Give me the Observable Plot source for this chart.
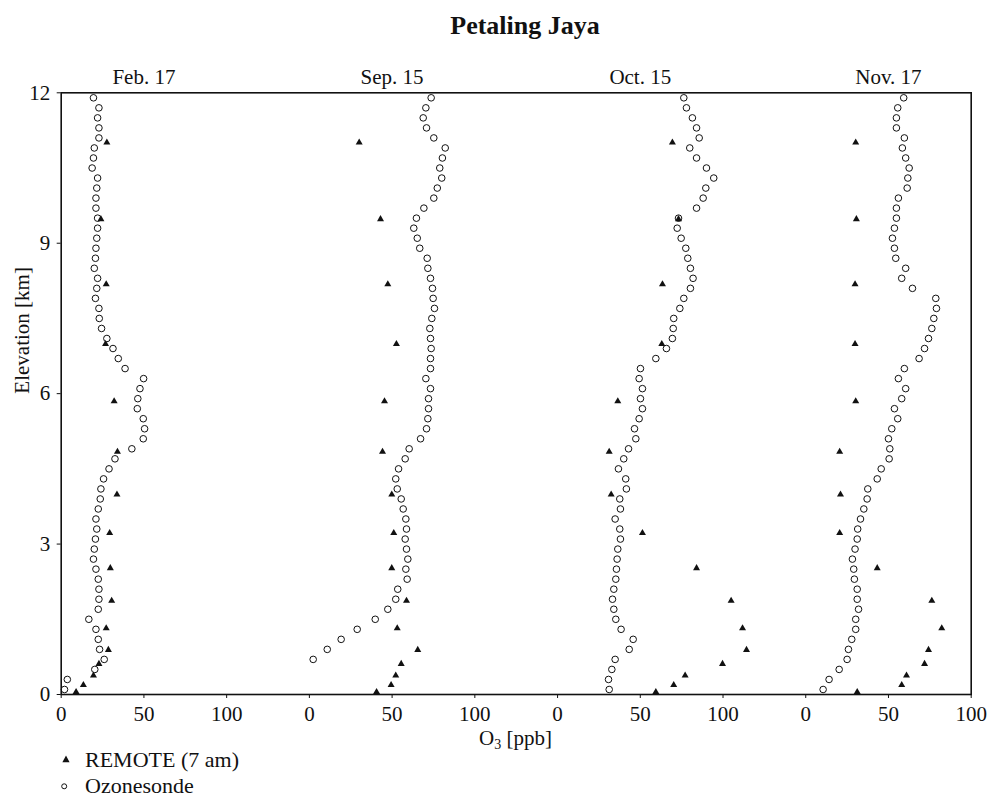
<!DOCTYPE html>
<html>
<head>
<meta charset="utf-8">
<script src="https://cdn.jsdelivr.net/npm/d3@7"></script>
<script src="https://cdn.jsdelivr.net/npm/@observablehq/plot@0.6"></script>
<style>
  html, body { margin: 0; padding: 0; background: #fff; overflow: hidden; }
  #wrap { position: relative; width: 990px; height: 797px; font-family: "Liberation Serif", "Times New Roman", serif; color: #111; }
  #title { position: absolute; left: 0; top: 11px; width: 1050px; text-align: center; font-size: 26px; font-weight: bold; line-height: 30px; }
  #chart { position: absolute; left: 0; top: 50px; }
  #xlabel { position: absolute; left: 0; top: 726px; width: 1031px; text-align: center; font-size: 21px; line-height: 24px; }
  #xlabel sub { font-size: 14px; vertical-align: -4px; line-height: 0; }
  .leg { position: absolute; left: 85px; font-size: 22px; line-height: 20px; white-space: nowrap; }
  .sw { position: absolute; }
</style>
</head>
<body>
<div id="wrap">
  <div id="title">Petaling Jaya</div>
  <div id="chart"></div>
  <div id="xlabel">O<sub>3</sub> [ppb]</div>
  <svg class="sw" style="left:61px;top:754px" width="10" height="10"><path d="M5,1.6L8.6,8.2L1.4,8.2Z" fill="#111"/></svg>
  <div class="leg" style="top:750px">REMOTE (7 am)</div>
  <svg class="sw" style="left:59px;top:781px" width="11" height="11"><circle cx="5.2" cy="5.3" r="2.5" fill="none" stroke="#111" stroke-width="1"/></svg>
  <div class="leg" style="top:776px">Ozonesonde</div>
</div>
<script>
// Panels (launch dates)
const panels = ["Feb. 17", "Sep. 15", "Oct. 15", "Nov. 17"];
const panelStep = 150; // each panel's 0–100 ppb axis is shifted by this amount on the shared x axis
const tickLabels = [0, 50, 100];
const yTicks = [0, 3, 6, 9, 12];

// REMOTE (7 am) altitudes [km] and O3 [ppb]
const remoteAlt = [0.05, 0.19, 0.38, 0.61, 0.89, 1.32, 1.87, 2.52, 3.22, 3.99, 4.84, 5.85, 6.99, 8.18, 9.48, 11.01];
const remoteFeb = [9, 13.4, 19.5, 22.8, 28.5, 27.2, 30.5, 29.7, 29.3, 33.7, 34, 32, 26.8, 27.2, 24, 27.6];
const remoteSep = [40.6, 49.4, 52.2, 55.5, 65.5, 53.1, 58.7, 49.8, 51, 49.8, 44.2, 45.4, 52.6, 47.4, 43, 30.1];
const remoteOct = [59.4, 70.2, 77.1, 99.7, 114.2, 111.8, 104.9, 84, 51.3, 32.4, 31.2, 36.4, 63, 63.4, 73.1, 69.4];
const remoteNov = [31.1, 58, 60.9, 71.8, 74.2, 82.2, 76.2, 43.2, 20.5, 21, 20.5, 30.2, 29.8, 29.8, 30.6, 30.2];

// Ozonesonde altitudes [km] and O3 [ppb]
const sondeAlt = [0.1, 0.3, 0.5, 0.7, 0.9, 1.1, 1.3, 1.5, 1.7, 1.9, 2.1, 2.3, 2.5, 2.7, 2.9, 3.1, 3.3, 3.5, 3.7, 3.9,
  4.1, 4.3, 4.5, 4.7, 4.9, 5.1, 5.3, 5.5, 5.7, 5.9, 6.1, 6.3, 6.5, 6.7, 6.9, 7.1, 7.3, 7.5, 7.7, 7.9,
  8.1, 8.3, 8.5, 8.7, 8.9, 9.1, 9.3, 9.5, 9.7, 9.9, 10.1, 10.3, 10.5, 10.7, 10.9, 11.1, 11.3, 11.5, 11.7, 11.9];
const sondeFeb = [2, 3.7, 20.3, 26, 23.2, 22.4, 21, 16.7, 22.4, 22.8, 22.8, 22.4, 21, 19.5, 20, 20.7, 21.5, 21, 22.4, 23.6,
  24, 25.6, 28.9, 32.5, 42.7, 49.6, 50.4, 49.6, 46, 46.3, 47.6, 49.8, 38.6, 34.5, 31.3, 27.6, 24.4, 23, 22.8, 20.7,
  21.5, 22, 20, 20.7, 21, 21.5, 22, 22, 21, 21, 21.5, 22, 18.7, 19.5, 20, 22.8, 22.8, 22, 22.8, 19.5];
const sondeSep = [null, null, null, 2.3, 10.8, 19.2, 28.9, 39.8, 47.4, 52.2, 53.4, 59.1, 58.3, 59.5, 58.7, 57.9, 58.7, 58.3, 56.7, 55.5,
  53.1, 52.2, 53.9, 57.9, 60.3, 67.2, 70.8, 71.6, 72, 72, 73.2, 70.4, 73.2, 73.2, 73.6, 73.2, 72.8, 74, 75.6, 74.8,
  74.4, 73.2, 71.6, 71.2, 66.7, 65.2, 63.1, 64.7, 69.2, 75.2, 77.3, 80, 78.8, 80.4, 82.1, 75.2, 70.8, 68.8, 70.4, 73.6];
const sondeOct = [31.2, 30.8, 32.8, 34.8, 43.3, 45.7, 38.4, 35.2, 34, 33.2, 34, 35.2, 35.6, 36, 36.4, 38, 37.6, 34.8, 38, 37.6,
  41.6, 41.2, 36.8, 40, 42.9, 47.3, 46.5, 49.3, 51.3, 50.1, 51.3, 49.3, 50.1, 59.4, 65.8, 69.4, 69.9, 70.2, 73.9, 76.3,
  80.3, 81.9, 80.3, 78.7, 77.5, 74.7, 72.3, 73.1, 84, 88, 89.6, 94.4, 90, 84, 79.9, 85.6, 84, 81.5, 77.9, 76.3];
const sondeNov = [10.5, 14.1, 20.2, 25, 25.8, 27.8, 30.2, 30.2, 31.9, 31.1, 31.1, 29.4, 29, 28.2, 29.8, 31.1, 31.4, 33.1, 35.1, 37.1,
  37.5, 43.2, 45.6, 50.4, 50.8, 50, 52, 55.6, 53.6, 58, 60.4, 56, 59.6, 68.5, 71.8, 74.2, 76.2, 77.4, 79, 78.6,
  64.5, 58, 60.4, 54.4, 53.6, 52.4, 53.6, 54.8, 54.8, 56, 61.3, 61.7, 62.5, 60.4, 58.4, 59.6, 54.8, 54.8, 55.6, 59.2];

// Build tidy tables
const remoteSeries = [remoteFeb, remoteSep, remoteOct, remoteNov];
const sondeSeries = [sondeFeb, sondeSep, sondeOct, sondeNov];
const remote = [];
remoteSeries.forEach((vals, p) => vals.forEach((v, i) => remote.push({panel: p, alt: remoteAlt[i], o3: v})));
const sonde = [];
sondeSeries.forEach((vals, p) => vals.forEach((v, i) => { if (v != null) sonde.push({panel: p, alt: sondeAlt[i], o3: v}); }));
const xTicks = [];
panels.forEach((_, p) => tickLabels.forEach(t => xTicks.push(p * panelStep + t)));
const panelRows = panels.map((name, p) => ({name, p}));

const chart = Plot.plot({
  width: 990,
  height: 700,
  marginLeft: 60.7,
  marginRight: 19.3,
  marginTop: 42.3,
  marginBottom: 56,
  style: {fontFamily: "'Liberation Serif', 'Times New Roman', serif", fontSize: "21px", color: "#111", background: "#fff"},
  x: {domain: [0, 100 + panelStep * (panels.length - 1)], ticks: xTicks, tickFormat: d => d % panelStep, tickSize: 4, tickPadding: 8, label: null},
  y: {domain: [0, 12], ticks: yTicks, tickSize: 4, tickPadding: 7, label: null},
  marks: [
    Plot.frame({stroke: "#111", strokeWidth: 1.6}),
    Plot.dot(sonde, {x: d => d.panel * panelStep + d.o3, y: "alt", r: 3.3, stroke: "#111", strokeWidth: 1, fill: "none"}),
    Plot.dot(remote, {x: d => d.panel * panelStep + d.o3, y: "alt", symbol: "triangle", r: 2.6, fill: "#111", stroke: "none"}),
    Plot.text(panelRows, {x: d => d.p * panelStep + 50, y: () => 12, text: "name", lineAnchor: "bottom", dy: -9, fontSize: 21, fill: "#111"}),
    Plot.text(["Elevation [km]"], {text: d => d, frameAnchor: "left", rotate: -90, dx: -39, fontSize: 21, fill: "#111"})
  ]
});
document.getElementById("chart").appendChild(chart);
</script>
</body>
</html>
